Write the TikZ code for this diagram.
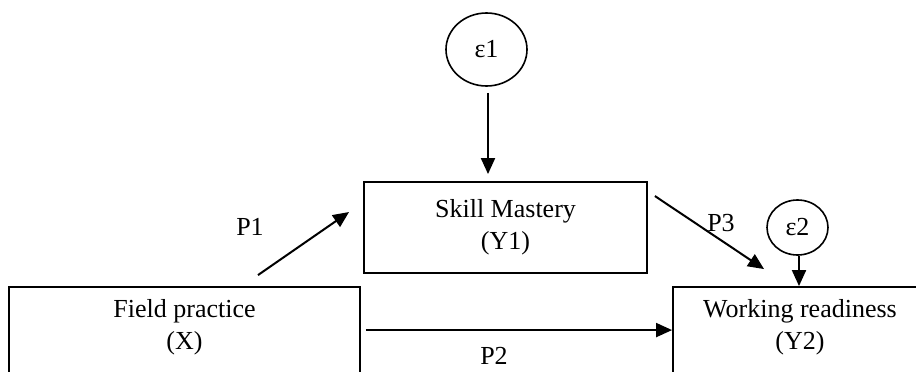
\documentclass[tikz,border=0pt]{standalone}
\usepackage{fontspec}
\setmainfont{Liberation Serif}
\usetikzlibrary{arrows.meta,calc,shapes.geometric}

\tikzset{
  x=0.75pt, y=-0.75pt,
  every node/.style={font=\fontsize{19.5}{24}\selectfont},
  box/.style={draw, line width=1.4pt, rectangle, inner sep=0pt},
  err/.style={draw, line width=1.2pt, ellipse, inner sep=0pt},
  txt/.style={align=center, inner sep=0pt},
  arr/.style={line width=1.5pt, -{Triangle[length=12pt,width=10.5pt]}},
}

\begin{document}
\begin{tikzpicture}
  \useasboundingbox (0,0) rectangle (916,371);
  \clip (0,0) rectangle (916,371);

  % constructs
  \node[box, minimum width=283*0.75pt, minimum height=91*0.75pt, align=center]
    (sm) at (505.5,227.5) {Skill Mastery\\(Y1)};
  \node[box, minimum width=351*0.75pt, minimum height=130*0.75pt]
    (fp) at (184.5,352) {};
  \node[box, minimum width=254*0.75pt, minimum height=130*0.75pt]
    (wr) at (800,352) {};
  \node[txt] (fptxt) at (184.5,327) {Field practice\\(X)};
  \node[txt] (wrtxt) at (800,327) {Working readiness\\(Y2)};

  % error terms
  \node[err, minimum width=81*0.75pt, minimum height=73*0.75pt] (e1) at (486.5,49.5) {ε1};
  \node[err, minimum width=61*0.75pt, minimum height=55*0.75pt] (e2) at (797.5,227.5) {ε2};

  % path coordinates
  \coordinate (p1s) at ($(fp.north)+(73.5,-11)$);
  \coordinate (p1e) at ($(sm.west)+(-14,-15.5)$);
  \coordinate (p3s) at ($(sm.north east)+(7,15)$);
  \coordinate (p3e) at ($(wr.north west)+(92,-17)$);
  \coordinate (p2s) at ($(fp.north east)+(5,44)$);
  \coordinate (e1s) at ($(e1.south)+(1.5,6)$);
  \coordinate (e2s) at ($(e2.south)+(1.5,0)$);

  % paths
  \draw[arr] (p1s) -- (p1e);
  \draw[arr] (p3s) -- (p3e);
  \draw[arr] (p2s) -- (p2s -| wr.west);
  \draw[arr, shorten >=5.25pt] (e1s) -- (e1s |- sm.north);
  \draw[arr] (e2s) -- (e2s |- wr.north);

  % path labels
  \node[txt] (lp1) at (250,227) {P1};
  \node[txt] (lp3) at (721,223) {P3};
  \node[txt] (lp2) at (494,356) {P2};
\end{tikzpicture}
\end{document}
